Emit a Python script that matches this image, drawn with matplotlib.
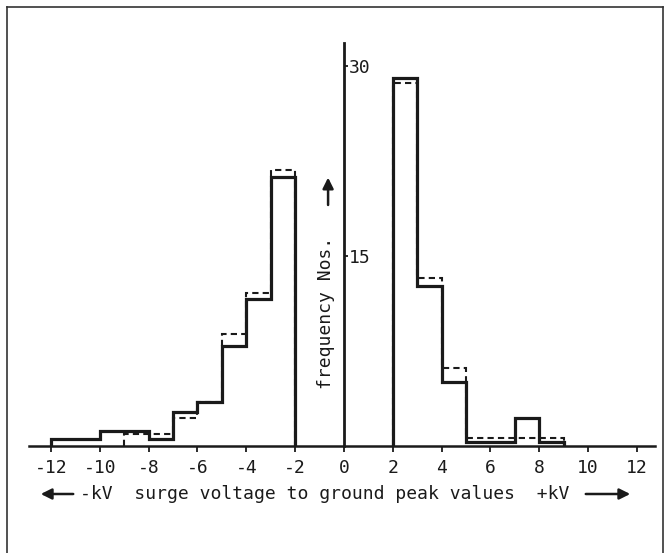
import numpy as np
import matplotlib
matplotlib.use("Agg")
import matplotlib.pyplot as plt
from matplotlib.lines import Line2D

# surge voltage bins (kV) and frequency values, solid and dashed curves
solid_neg_edges = [-12, -10, -8, -7, -6, -5, -4, -3, -2]
solid_neg_vals = [0.55, 1.2, 0.55, 2.7, 3.5, 7.9, 11.6, 21.2]
solid_pos_edges = [2, 3, 4, 5, 7, 8, 9]
solid_pos_vals = [29.0, 12.6, 5.05, 0.3, 2.2, 0.3]

dash_neg_edges = [-9, -8, -7, -6, -5, -4, -3, -2]
dash_neg_vals = [0.95, 0.95, 2.2, 3.5, 8.85, 12.1, 21.8]
dash_pos_edges = [2, 3, 4, 5, 7, 8, 9]
dash_pos_vals = [28.65, 13.25, 6.15, 0.6, 0.6, 0.6]

x_ticks = [-12, -10, -8, -6, -4, -2, 0, 2, 4, 6, 8, 10, 12]
x_ticklabels = [str(v) for v in x_ticks]
y_ticks = [15, 30]

W, H = 669, 553
FONT = "DejaVu Sans Mono"
INK = "#1a1a1a"

fig = plt.figure(figsize=(W / 100, H / 100), dpi=100)
ax = fig.add_axes([29 / W, (H - 446) / H, 626 / W, 403 / H])
ax.set_xlim(-12.9, 12.74)
ax.set_ylim(0, 31.8)

for edges, vals in [(solid_neg_edges, solid_neg_vals), (solid_pos_edges, solid_pos_vals)]:
    ax.stairs(vals, edges, baseline=0, color=INK, linewidth=2.3)
for edges, vals in [(dash_neg_edges, dash_neg_vals), (dash_pos_edges, dash_pos_vals)]:
    ax.stairs(vals, edges, baseline=0, color=INK, linewidth=1.5, linestyle=(0, (3, 2)))

ax.spines['top'].set_visible(False)
ax.spines['left'].set_visible(False)
ax.spines['right'].set_position(('data', 0))
ax.spines['right'].set_linewidth(2.0)
ax.spines['right'].set_color(INK)
ax.spines['bottom'].set_linewidth(1.8)
ax.spines['bottom'].set_color(INK)

ax.set_xticks(x_ticks)
ax.set_xticklabels(x_ticklabels, fontfamily=FONT, fontsize=13)
ax.tick_params(axis='x', direction='out', length=4.5, width=1.3, pad=5, colors=INK)

ax.yaxis.tick_right()
ax.set_yticks(y_ticks)
ax.set_yticklabels([str(v) for v in y_ticks], fontfamily=FONT, fontsize=13)
ax.tick_params(axis='y', direction='out', length=3, width=1.3, pad=0.5, colors=INK)

ax.text(-0.75, 10.5, "frequency Nos.", rotation=90, ha='center', va='center',
        fontfamily=FONT, fontsize=13, color=INK)
ax.annotate("", xy=(-0.65, 21.4), xytext=(-0.65, 18.8),
            arrowprops=dict(arrowstyle='-|>', color=INK, lw=1.8, mutation_scale=16))

# bottom label with arrows
fy = (H - 494) / H
fig.text(80 / W, fy, "-kV  surge voltage to ground peak values  +kV",
         ha='left', va='center', fontfamily=FONT, fontsize=13, color=INK)
ax.annotate("", xy=(38 / W, fy), xytext=(76 / W, fy), xycoords='figure fraction',
            textcoords='figure fraction',
            arrowprops=dict(arrowstyle='-|>', color=INK, lw=1.8, mutation_scale=16))
ax.annotate("", xy=(633 / W, fy), xytext=(583 / W, fy), xycoords='figure fraction',
            textcoords='figure fraction',
            arrowprops=dict(arrowstyle='-|>', color=INK, lw=1.8, mutation_scale=16))

# outer frame (left, top, right)
frame = dict(color="#333333", linewidth=1.2, transform=fig.transFigure)
fig.add_artist(Line2D([7 / W, 7 / W], [0, 1 - 7 / H], **frame))
fig.add_artist(Line2D([7 / W, 663 / W], [1 - 7 / H, 1 - 7 / H], **frame))
fig.add_artist(Line2D([663 / W, 663 / W], [0, 1 - 7 / H], **frame))

fig.savefig("out.png", dpi=100)
